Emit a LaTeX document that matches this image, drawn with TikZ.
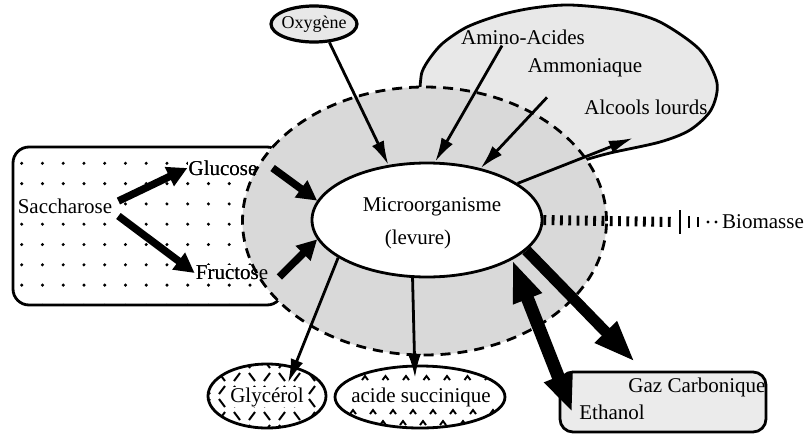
\documentclass[tikz,border=0pt]{standalone}
\usepackage{fontspec}
\setmainfont{Liberation Serif}
\usetikzlibrary{arrows.meta,shapes.geometric}
\begin{document}
\begin{tikzpicture}[x=1pt,y=-1pt,
  lbl/.style={font=\fontsize{21}{24}\selectfont, inner sep=1pt},
  oxylbl/.style={font=\fontsize{18}{21}\selectfont, inner sep=1pt},
  outline/.style={draw=black, line width=2.8pt},
  zonestyle/.style={draw=black, line width=2.8pt, dash pattern=on 10pt off 7pt, fill=black!15},
  thinarrow/.style={line width=2.8pt, -{Latex[length=24pt,width=13pt]}},
  fatarrow/.style={line width=7.5pt, -{Triangle[length=20pt,width=20pt]}},
  bigarrow/.style={line width=11pt, -{Triangle[length=42pt,width=28pt]}},
  bigdouble/.style={line width=13pt, {Triangle[length=42pt,width=28pt]}-{Triangle[length=38pt,width=28pt]}},
  tick/.style={line width=2.8pt},
]
\useasboundingbox (0,0) rectangle (806,437);
\fill[white] (0,0) rectangle (806,437);

% Saccharose box with dots
\node[outline, rectangle, rounded corners=16pt, minimum width=270pt, minimum height=158pt, inner sep=0pt, fill=white] (sbox) at (148,226) {};
\begin{scope}
  \clip[rounded corners=16pt] (13,147) rectangle (283,305);
  \foreach \i in {0,...,12} {
    \foreach \j in {0,...,7} {
      \fill (21.7+20.75*\i, 163.3+20.3*\j) circle[radius=1.7pt];
    }
  }
\end{scope}
\node[lbl, fill=white] (sacc) at (65,206) {Saccharose};
\node[lbl, fill=white] (glu) at (223,168) {Glucose};
\node[lbl, fill=white] (fru) at (232,273) {Fructose};

% bubble (top right)
\fill[black!9] plot[smooth] coordinates {(420,88) (422,72) (430,58) (443,43) (467,27) (500,15) (533,8) (570,5) (620,10) (660,22) (700,50) (717,83) (711,110) (690,130) (660,142) (610,153) (585,160)} -- (500,150) -- (420,120) -- cycle;
\draw[outline] plot[smooth] coordinates {(420,88) (422,72) (430,58) (443,43) (467,27) (500,15) (533,8) (570,5) (620,10) (660,22) (700,50) (717,83) (711,110) (690,130) (660,142) (610,153) (585,160)};

% dashed zone
\node[ellipse, zonestyle, minimum width=364pt, minimum height=268pt, inner sep=0pt] (zone) at (424.5,221) {};

\node[lbl] (gluT) at (glu) {Glucose};
\node[lbl] (fruT) at (fru) {Fructose};

% microorganism
\node[ellipse, outline, fill=white, minimum width=230pt, minimum height=114pt, inner sep=0pt] (micro) at (427,220) {};
\node[lbl] (mic1) at (432,207) {Microorganisme};
\node[lbl] (mic2) at (418,239) {(levure)};

% Oxygene
\node[ellipse, outline, line width=3.2pt, fill=black!9, minimum width=86pt, minimum height=36pt, inner sep=0pt] (oxy) at (314,24) {};
\node[oxylbl] (oxyT) at (314,24) {Oxygène};

% bubble texts
\node[lbl] (amino) at (523,37) {Amino-Acides};
\node[lbl] (amm) at (585,68) {Ammoniaque};
\node[lbl] (alc) at (646,107) {Alcools lourds};

% Glycerol
\node[ellipse, outline, fill=white, minimum width=118pt, minimum height=64pt, inner sep=0pt] (gly) at (267,396) {};
\begin{scope}
  \clip (267,396) ellipse [x radius=58pt, y radius=31pt];
  \foreach \i in {0,...,8} {
    \foreach \j in {0,...,5} {
      \pgfmathtruncatemacro{\m}{mod(\i+\j,2)}
      \ifnum\m=0
        \draw[line width=2pt] (204+15*\i, 360+13*\j) -- ++(6,8);
      \else
        \draw[line width=2pt] (210+15*\i, 360+13*\j) -- ++(-6,8);
      \fi
    }
  }
\end{scope}
\node[lbl, fill=white, inner sep=0pt] (glyT) at (267,397) {Glycérol};

% acide succinique
\node[ellipse, outline, fill=white, minimum width=170pt, minimum height=62pt, inner sep=0pt] (aci) at (420,397) {};
\begin{scope}
  \clip (420,397) ellipse [x radius=84pt, y radius=30pt];
  \foreach \x in {0,...,7} {
    \draw[line width=1.9pt] (362+20.5*\x,380) -- (365+20.5*\x,376) -- (368+20.5*\x,380);
    \draw[line width=1.9pt] (350+20*\x,414) -- (353+20*\x,410) -- (356+20*\x,414);
    \draw[line width=1.9pt] (360+20*\x,425) -- (363+20*\x,421) -- (366+20*\x,425);
  }
\end{scope}
\node[lbl] (aciT) at (421,397) {acide succinique};

% Gaz Carbonique / Ethanol box
\node[rectangle, outline, rounded corners=13pt, fill=black!8, minimum width=206pt, minimum height=60pt, inner sep=0pt] (gaz) at (663,402) {};
\node[lbl] (gc) at (697,387) {Gaz Carbonique};
\node[lbl] (eth) at (612,412) {Ethanol};

% Biomasse
\node[lbl] (bio) at (763,222) {Biomasse};
\coordinate (bmEnd) at (673,222);
\draw[line width=10pt, dash pattern=on 2.8pt off 5.5pt] (micro.east) -- (bmEnd);
\draw[tick] (680,210) -- (680,234);
\draw[tick] (689,216) -- (689,228);
\draw[tick] (698,217) -- (698,227);
\fill (708,222) circle[radius=1.6pt];
\fill (716,222) circle[radius=1.6pt];

% arrows
\draw[fatarrow] ([shift={(5pt,5pt)}]sacc.east) -- (glu.west);
\draw[fatarrow] ([shift={(5pt,-10pt)}]sacc.east) -- (fru.west);
\draw[fatarrow] ([xshift=14pt]glu.east) -- (micro.170);
\draw[fatarrow] ([shift={(10pt,-4pt)}]fru.east) -- (micro.190);

\draw[thinarrow] (oxy.-50) -- (micro.125);
\draw[thinarrow] ([xshift=-21pt]amino.south) -- (micro.82);
\draw[thinarrow] ([shift={(-38pt,-19pt)}]amm.south) -- (micro.44);
\coordinate (alcTip) at (633,138);
\draw[thinarrow] (micro.22) -- (alcTip);
\draw[thinarrow] (micro.-157) -- ([shift={(21pt,13pt)}]gly.center);
\draw[thinarrow] (micro.-104) -- ([shift={(-5pt,19pt)}]aci.center);

\coordinate (gazTip) at (635,362);
\draw[bigarrow] (micro.-17) -- (gazTip);
\draw[bigdouble] (micro.-25) -- ([xshift=-6pt]eth.west);
\end{tikzpicture}
\end{document}
